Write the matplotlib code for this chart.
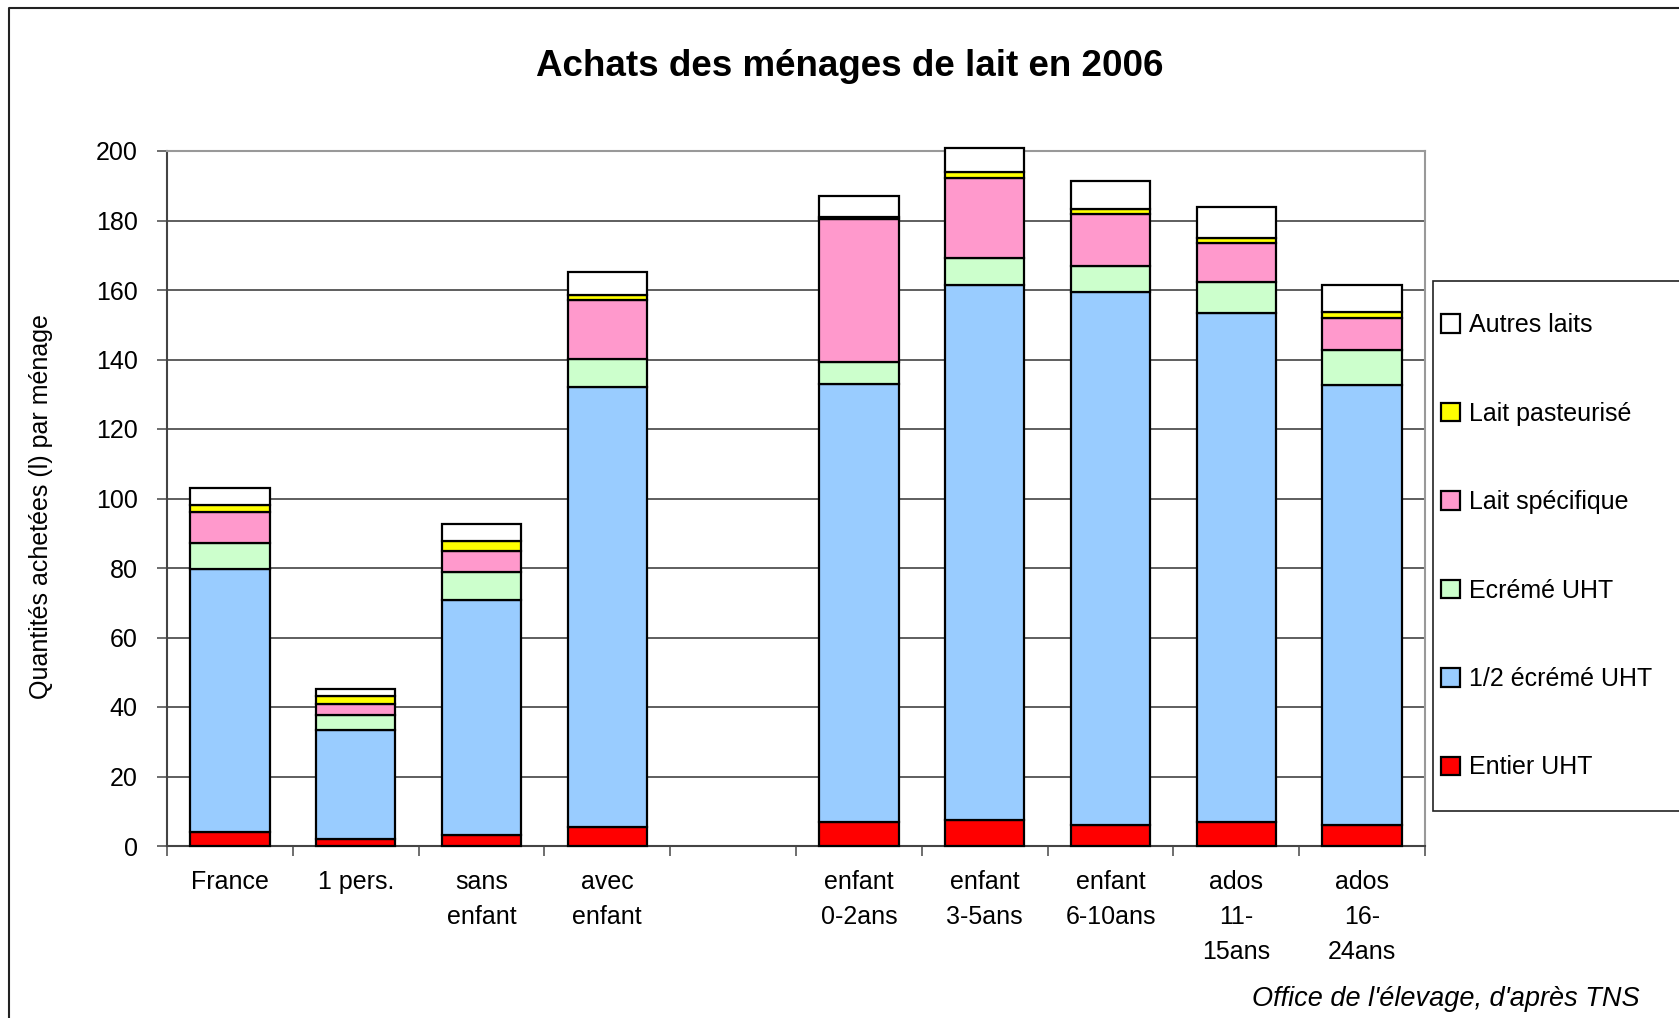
import matplotlib
matplotlib.use("Agg")
import matplotlib.pyplot as plt
import numpy as np
from matplotlib.patches import Rectangle, Patch
from matplotlib.lines import Line2D

plt.rcParams['font.family'] = ['Liberation Sans', 'DejaVu Sans']

categories = ["France", "1 pers.", "sans\nenfant", "avec\nenfant", "",
              "enfant\n0-2ans", "enfant\n3-5ans", "enfant\n6-10ans",
              "ados\n11-\n15ans", "ados\n16-\n24ans"]

series_names = ["Entier UHT", "1/2 écrémé UHT", "Ecrémé UHT",
                "Lait spécifique", "Lait pasteurisé", "Autres laits"]

entier_uht      = [4.0, 1.9, 3.3, 5.5, 0, 6.8, 7.4, 6.1, 6.8, 6.1]
demi_ecreme     = [75.7, 31.6, 67.5, 126.5, 0, 126.2, 154.1, 153.4, 146.7, 126.7]
ecreme_uht      = [7.4, 4.1, 8.1, 8.1, 0, 6.3, 7.6, 7.3, 8.8, 9.8]
lait_specifique = [8.9, 3.4, 6.1, 17.0, 0, 41.2, 23.1, 15.0, 11.3, 9.3]
lait_pasteurise = [2.1, 2.1, 2.9, 1.5, 0, 0.5, 1.8, 1.4, 1.5, 1.9]
autres_laits    = [5.0, 2.2, 4.7, 6.7, 0, 6.1, 6.9, 8.3, 8.9, 7.7]

colors = ["#FF0000", "#99CCFF", "#CCFFCC", "#FF99CC", "#FFFF00", "#FFFFFF"]

yticks = [0, 20, 40, 60, 80, 100, 120, 140, 160, 180, 200]

W, H = 1679, 1018
fig = plt.figure(figsize=(W / 100, H / 100), dpi=100)
fig.patch.set_facecolor("white")

ax = fig.add_axes([167 / W, 1 - 846 / H, (1425 - 167) / W, (846 - 151) / H])

data = [entier_uht, demi_ecreme, ecreme_uht, lait_specifique, lait_pasteurise, autres_laits]
x = np.arange(len(categories))
mask = np.array([c != "" for c in categories])
bottom = np.zeros(len(categories))
for vals, col, name in zip(data, colors, series_names):
    v = np.array(vals, dtype=float)
    ax.bar(x[mask], v[mask], bottom=bottom[mask], width=0.63, color=col,
           edgecolor="black", linewidth=1.6, label=name, zorder=3, clip_on=False)
    bottom += v

ax.set_xlim(-0.5, len(categories) - 0.5)
ax.set_ylim(0, 200)
ax.set_yticks(yticks)
ax.set_yticklabels([str(t) for t in yticks], fontsize=18)
ax.yaxis.grid(True, color="#333333", linewidth=1.1, zorder=0)
ax.tick_params(axis="y", direction="out", length=7, width=1.2, color="#555555", pad=14)

ax.set_xticks(np.arange(-0.5, len(categories), 1.0))
ax.set_xticklabels([])
ax.tick_params(axis="x", which="major", direction="out", length=7, width=1.2, color="#555555")
ax.set_xticks(x, minor=True)
ax.set_xticklabels(categories, minor=True, fontsize=18, linespacing=1.6, va="top")
ax.tick_params(axis="x", which="minor", length=0, pad=17)

for s in ["top", "right"]:
    ax.spines[s].set_color("#999999")
    ax.spines[s].set_linewidth(1.5)
for s in ["left", "bottom"]:
    ax.spines[s].set_color("#444444")
    ax.spines[s].set_linewidth(1.5)

ax.set_ylabel("Quantités achetées (l) par ménage", fontsize=18)
ax.yaxis.set_label_coords(-0.0906, 0.489)

fig.text(0.506, 1 - 67 / H, "Achats des ménages de lait en 2006", ha="center", va="center",
         fontsize=26.5, fontweight="bold")

fig.text(1640 / W, 1 - 999 / H, "Office de l'élevage, d'après TNS", ha="right", va="center",
         fontsize=19.5, style="italic")

# outer chart frame (clipped at right and bottom)
fig.add_artist(Line2D([8.5 / W, 8.5 / W, 1.0], [0.0, 1 - 8 / H, 1 - 8 / H],
                      transform=fig.transFigure, color="#222222", linewidth=1.5))

# legend frame
fig.add_artist(Rectangle((1433 / W, 1 - 811 / H), (1700 - 1433) / W, (811 - 281) / H,
                         transform=fig.transFigure, facecolor="white",
                         edgecolor="#222222", linewidth=1.2))

handles = [Patch(facecolor=c, edgecolor="black", linewidth=1.6, label=n)
           for c, n in zip(colors, series_names)][::-1]
leg = fig.legend(handles=handles, loc="upper left",
                 bbox_to_anchor=(1441 / W, 1 - 313 / H), frameon=False,
                 fontsize=18, handlelength=0.76, handleheight=0.76,
                 handletextpad=0.36, labelspacing=2.58, borderaxespad=0, borderpad=0)

fig.savefig("out.png", dpi=100, facecolor="white")
